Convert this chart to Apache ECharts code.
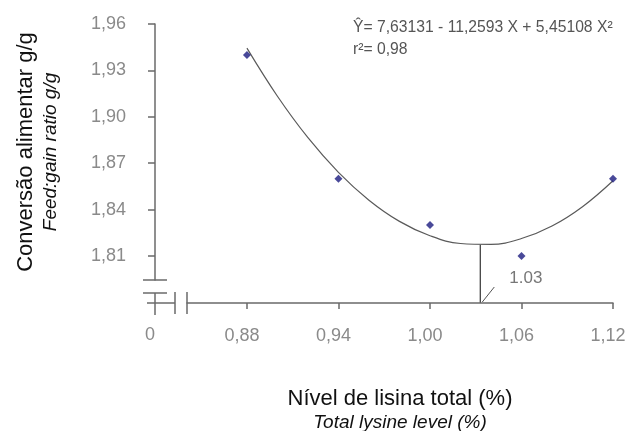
<!DOCTYPE html>
<html><head><meta charset="utf-8">
<script src="https://cdn.jsdelivr.net/npm/echarts@6/dist/echarts.min.js"></script>
<style>html,body{margin:0;padding:0;background:#fff}#c{width:635px;height:431px}</style>
</head><body><div id="c"></div>
<script>
// Observed points
const lysineLevels = [0.88, 0.94, 1.00, 1.06, 1.12];
const feedGain = [1.94, 1.86, 1.83, 1.81, 1.86];
// Fitted curve
const curveX = [0.88, 0.90, 0.92, 0.94, 0.96, 0.98, 1.00, 1.02, 1.04, 1.06, 1.08, 1.10, 1.12];
const curveY = [1.9444, 1.9133, 1.8865, 1.8641, 1.8461, 1.8324, 1.8231, 1.8181, 1.8175, 1.8213, 1.8294, 1.8419, 1.8587];
// Optimum marker
const optimumX = 1.033;
const optimumY = 1.8173;
const optimumLabel = '1.03';
// Ticks / labels
const xTickValues = [0.88, 0.94, 1.00, 1.06, 1.12];
const yTickValues = [1.81, 1.84, 1.87, 1.90, 1.93, 1.96];
const breakLabel = '0';
const equationLine1 = 'Ŷ= 7,63131 - 11,2593 X + 5,45108 X²';
const equationLine2 = 'r²= 0,98';
const yTitle = 'Conversão alimentar g/g';
const yTitleEn = 'Feed:gain ratio g/g';
const xTitle = 'Nível de lisina total (%)';
const xTitleEn = 'Total lysine level (%)';

const FONT = '"Liberation Sans", Arial, sans-serif';
const AXIS = '#6a6a6a';
const fmt = v => Number(v).toFixed(2).replace('.', ',');

const chart = echarts.init(document.getElementById('c'), null, {renderer: 'canvas'});
const GRID = {left: 187, right: 22, top: 24, bottom: 151};
const X_OFF = 23, Y_OFF = 32;

chart.setOption({
  animation: false,
  backgroundColor: '#fff',
  grid: Object.assign({containLabel: false, outerBoundsMode: 'none'}, GRID),
  xAxis: {
    type: 'value', min: 0.8407, max: 1.12, offset: X_OFF,
    axisLine: {show: true, lineStyle: {color: AXIS, width: 1.5}},
    axisTick: {show: true, length: 6, customValues: xTickValues, lineStyle: {color: AXIS, width: 1.5}},
    axisLabel: {customValues: xTickValues, formatter: fmt, fontFamily: FONT, fontSize: 18, color: '#8a8a8a', margin: 24, padding: [0, 10, 0, 0]},
    splitLine: {show: false},
    name: '{a|' + xTitle + '}\n{b|' + xTitleEn + '}',
    nameLocation: 'middle', nameGap: 83,
    nameTextStyle: {
      rich: {
        a: {fontFamily: FONT, fontSize: 22, color: '#111', lineHeight: 25, align: 'center'},
        b: {fontFamily: FONT, fontSize: 19, fontStyle: 'italic', color: '#111', lineHeight: 23, align: 'center'}
      }
    }
  },
  yAxis: {
    type: 'value', min: 1.7945, max: 1.96, offset: Y_OFF,
    axisLine: {show: true, lineStyle: {color: AXIS, width: 1.5}},
    axisTick: {show: true, length: 7, customValues: yTickValues, lineStyle: {color: AXIS, width: 1.5}},
    axisLabel: {customValues: yTickValues, formatter: fmt, fontFamily: FONT, fontSize: 18, color: '#8a8a8a', margin: 29},
    splitLine: {show: false},
    name: '{a|' + yTitle + '}\n{b|' + yTitleEn + '}',
    nameLocation: 'middle', nameRotate: 90, nameGap: 92,
    nameTextStyle: {
      rich: {
        a: {fontFamily: FONT, fontSize: 22, color: '#111', lineHeight: 26, align: 'center'},
        b: {fontFamily: FONT, fontSize: 19, fontStyle: 'italic', color: '#111', lineHeight: 24, align: 'center'}
      }
    }
  },
  series: [
    {
      type: 'line', data: curveX.map((x, i) => [x, curveY[i]]), smooth: 0.4,
      showSymbol: false, lineStyle: {color: '#5a5a5a', width: 1.2}, z: 2
    },
    {
      type: 'scatter', data: lysineLevels.map((x, i) => [x, feedGain[i]]),
      symbol: 'diamond', symbolSize: 8, itemStyle: {color: '#1c1c80'}, z: 3
    }
  ]
});

// Annotations derived from the axes' own scales
const optPix = chart.convertToPixel({gridIndex: 0}, [optimumX, optimumY]);
const axisRow = 431 - GRID.bottom + X_OFF;       // pixel row of the x axis line
const gridBottom = 431 - GRID.bottom;
const yAxisCol = GRID.left - Y_OFF;              // pixel column of the y axis line
const ls = {stroke: AXIS, lineWidth: 1.5};
const seg = (x1, y1, x2, y2, style) => ({type: 'line', shape: {x1, y1, x2, y2}, style: style || ls, silent: true});

chart.setOption({
  graphic: [
    // drop line from curve minimum to x axis
    seg(optPix[0], optPix[1], optPix[0], axisRow, {stroke: '#444', lineWidth: 1.3}),
    seg(optPix[0] + 2, axisRow - 1, optPix[0] + 14, axisRow - 16, {stroke: '#555', lineWidth: 1}),
    {type: 'text', x: optPix[0] + 29, y: axisRow - 25, style: {text: optimumLabel, fontFamily: FONT, fontSize: 17, fill: '#777', textVerticalAlign: 'middle'}, silent: true},
    // axis break symbols
    seg(yAxisCol - 12, gridBottom, yAxisCol + 12, gridBottom),
    seg(yAxisCol - 12, gridBottom + 13, yAxisCol + 12, gridBottom + 13),
    seg(yAxisCol, gridBottom + 13, yAxisCol, gridBottom + 35),
    seg(yAxisCol - 8, axisRow, yAxisCol + 20, axisRow),
    seg(yAxisCol + 20, axisRow - 11, yAxisCol + 20, axisRow + 11),
    seg(GRID.left, axisRow - 11, GRID.left, axisRow + 11),
    {type: 'text', x: yAxisCol - 5, y: axisRow + 32, style: {text: breakLabel, fontFamily: FONT, fontSize: 18, fill: '#8a8a8a', textAlign: 'center', textVerticalAlign: 'middle'}, silent: true},
    // regression equation
    {type: 'text', x: 353, y: 28, style: {text: equationLine1, fontFamily: FONT, fontSize: 15.7, fill: '#555', textVerticalAlign: 'middle'}, silent: true},
    {type: 'text', x: 353, y: 50, style: {text: equationLine2, fontFamily: FONT, fontSize: 15.7, fill: '#555', textVerticalAlign: 'middle'}, silent: true}
  ]
});
</script></body></html>
